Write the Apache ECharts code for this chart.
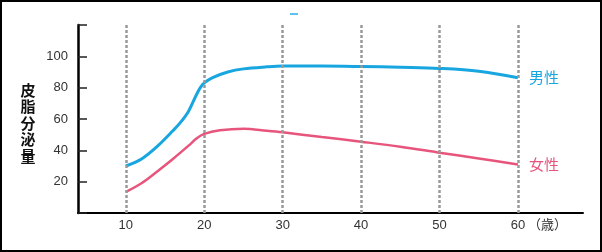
<!DOCTYPE html>
<html><head><meta charset="utf-8">
<script src="https://cdn.jsdelivr.net/npm/echarts@6/dist/echarts.min.js"></script>
<style>html,body{margin:0;padding:0;background:#fff}#c{width:602px;height:252px}</style>
</head><body><div id="c"></div>
<script>
const maleAges   = [10, 12, 14, 16, 17, 18, 19, 19.5, 20, 21, 23, 25, 28, 30, 35, 40, 45, 50, 55, 60];
const maleValues = [30, 34.5, 42.5, 52.5, 58, 65, 75.5, 80, 83, 86.3, 90, 92, 93.3, 93.8, 93.8, 93.5, 93, 92.3, 90.5, 86.3];
const femaleAges   = [10, 12, 14, 16, 18, 19, 20, 22, 25, 28, 30, 35, 40, 45, 50, 55, 60];
const femaleValues = [13.5, 19, 26.5, 34.5, 43, 47.5, 50.5, 52.8, 53.8, 52.5, 51.5, 48.5, 45.5, 42.3, 38.5, 34.8, 31];
const xTicks = [10, 20, 30, 40, 50, 60];
const yTicks = [20, 40, 60, 80, 100];
const seriesNames = ['男性', '女性'];
const yAxisTitle = '皮脂分泌量';
const xUnit = '（歳）';

const chart = echarts.init(document.getElementById('c'));
const zip = (a, b) => a.map((v, i) => [v, b[i]]);
const tickFont = {fontFamily: 'Liberation Sans', fontSize: 13, color: '#333'};
chart.setOption({
  animation: false,
  grid: {left: 78, right: 19, top: 25, bottom: 39},
  xAxis: {
    type: 'value', min: 3.9, max: 68.3,
    axisLine: {onZero: false, lineStyle: {color: '#000', width: 2}},
    axisTick: {show: false},
    splitLine: {show: false},
    axisLabel: Object.assign({customValues: xTicks, margin: 6}, tickFont)
  },
  yAxis: {
    type: 'value', min: 0, max: 120, interval: 20,
    axisLine: {show: true, onZero: false, lineStyle: {color: '#000', width: 2.5}},
    axisTick: {show: true, inside: true, length: 9, lineStyle: {color: '#222', width: 1.5}},
    splitLine: {show: false},
    axisLabel: Object.assign({margin: 10, formatter: v => yTicks.includes(v) ? String(v) : ''}, tickFont)
  },
  graphic: [
    {type: 'rect', shape: {x: 1, y: 1, width: 600, height: 250}, style: {fill: 'none', stroke: '#000', lineWidth: 2}, silent: true},
    {type: 'rect', shape: {x: 290, y: 13, width: 8, height: 2}, style: {fill: '#5cc3ee'}, silent: true},
    {type: 'text', x: 28, y: 123, style: {text: yAxisTitle.split('').join('\n'), fontFamily: 'Noto Sans CJK JP', fontSize: 15, fontWeight: 'bold', lineHeight: 16.5, fill: '#111', align: 'center', verticalAlign: 'middle'}},
    {type: 'text', x: 528, y: 224, style: {text: xUnit, fontFamily: 'Noto Sans CJK JP', fontSize: 13, fill: '#333', align: 'left', verticalAlign: 'middle'}}
  ],
  series: [
    {
      name: seriesNames[0], type: 'line', data: zip(maleAges, maleValues), smooth: 0.35,
      showSymbol: false, lineStyle: {color: '#18a6e0', width: 3}, itemStyle: {color: '#18a6e0'},
      endLabel: {show: true, formatter: '{a}', color: '#18a6e0', fontFamily: 'Noto Sans CJK JP', fontSize: 15, distance: 11},
      markLine: {
        silent: true, symbol: 'none', label: {show: false},
        lineStyle: {type: [3, 2], color: '#999', width: 2.5},
        data: xTicks.map(v => ({xAxis: v}))
      },
      z: 3
    },
    {
      name: seriesNames[1], type: 'line', data: zip(femaleAges, femaleValues), smooth: 0.35,
      showSymbol: false, lineStyle: {color: '#e8557c', width: 2.5}, itemStyle: {color: '#e8557c'},
      endLabel: {show: true, formatter: '{a}', color: '#e8557c', fontFamily: 'Noto Sans CJK JP', fontSize: 15, distance: 11},
      z: 3
    }
  ]
});
</script></body></html>
